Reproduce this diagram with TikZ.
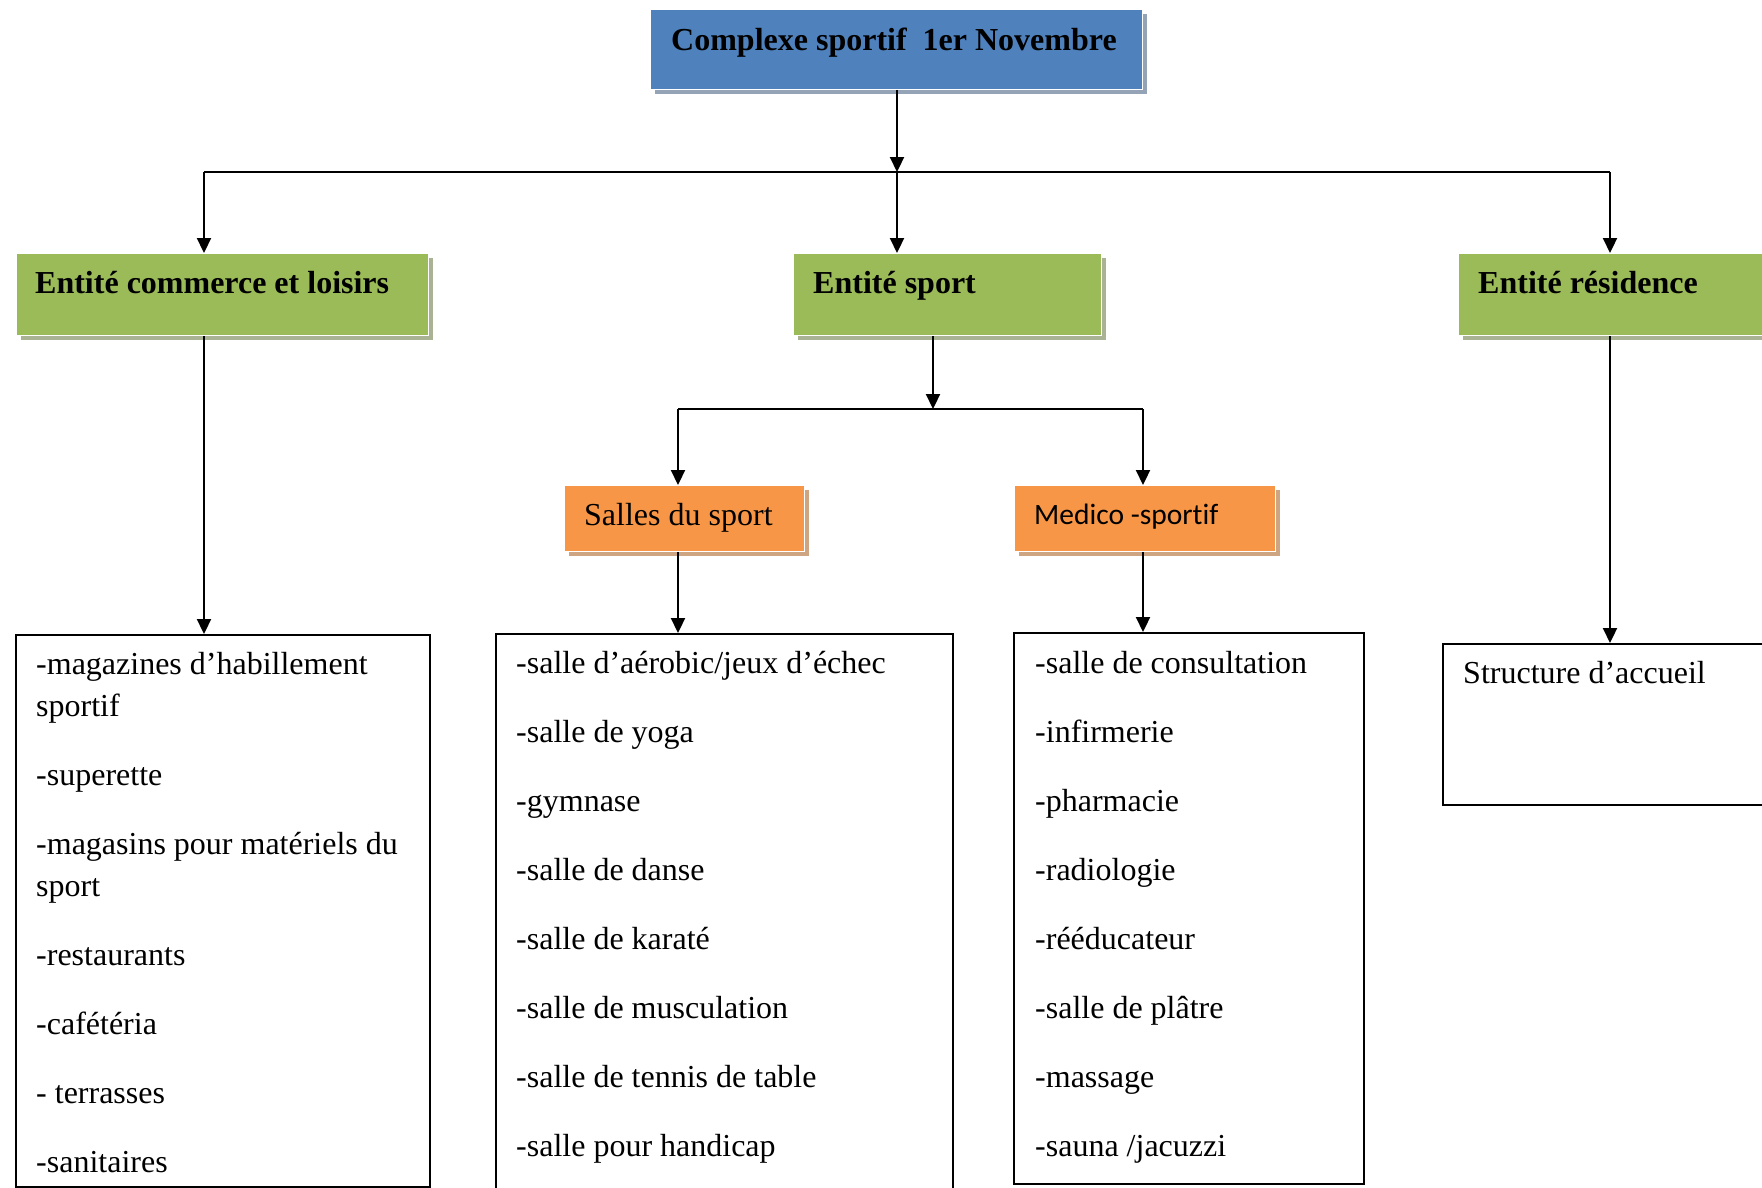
\documentclass[tikz,border=0pt]{standalone}
\usepackage{fontspec}
\setmainfont{Liberation Serif}
\newfontfamily\calib[Ligatures=NoCommon]{Carlito}
\usetikzlibrary{arrows.meta,shadows}
\definecolor{bluebox}{HTML}{4F81BD}
\definecolor{greenbox}{HTML}{9BBB59}
\definecolor{orangebox}{HTML}{F79646}
\definecolor{blueshadow}{HTML}{95A3B6}
\definecolor{greenshadow}{HTML}{A9B394}
\definecolor{orangeshadow}{HTML}{CDA583}
\begin{document}
\begin{tikzpicture}[x=1pt,y=-1pt,
  colbox/.style={draw=white, line width=1pt, anchor=north west, inner sep=0pt},
  bluestyle/.style={colbox, fill=bluebox, drop shadow={shadow xshift=4pt, shadow yshift=-4pt, fill=blueshadow, opacity=1}},
  greenstyle/.style={colbox, fill=greenbox, drop shadow={shadow xshift=4pt, shadow yshift=-4pt, fill=greenshadow, opacity=1}},
  orangestyle/.style={colbox, fill=orangebox, drop shadow={shadow xshift=4pt, shadow yshift=-4pt, fill=orangeshadow, opacity=1}},
  listbox/.style={draw=black, line width=2pt, fill=white, anchor=north west, inner sep=0pt},
  txt/.style={anchor=base west, inner sep=0pt, font=\fontsize{32}{40}\selectfont},
  btxt/.style={txt, font=\fontsize{32}{40}\selectfont\bfseries},
  arr/.style={line width=2.2pt, -{Triangle[width=14pt,length=15pt]}},
  ln/.style={line width=2.2pt}
]
\useasboundingbox (0,0) rectangle (1762,1187);

% coloured boxes
\node[bluestyle, minimum width=492pt, minimum height=80pt] (top) at (650,9) {};
\node[greenstyle, minimum width=412pt, minimum height=82pt] (com) at (16,253) {};
\node[greenstyle, minimum width=308pt, minimum height=82pt] (spo) at (793,253) {};
\node[greenstyle, minimum width=330pt, minimum height=82pt] (res) at (1458,253) {};
\node[orangestyle, minimum width=240pt, minimum height=66pt] (sal) at (564,485) {};
\node[orangestyle, minimum width=261pt, minimum height=66pt] (med) at (1014,485) {};

% list boxes
\node[listbox, minimum width=414pt, minimum height=552pt] (listL) at (15,634) {};
\node[listbox, minimum width=457pt, minimum height=600pt] (listM) at (495,633) {};
\node[listbox, minimum width=350pt, minimum height=551pt] (listR) at (1013,632) {};
\node[listbox, minimum width=360pt, minimum height=161pt] (str) at (1442,643) {};

% titles
\node[btxt] (tTop) at (671,50) {Complexe sportif\ \ 1er Novembre};
\node[btxt] (tCom) at (35,293) {Entité commerce et loisirs};
\node[btxt] (tSpo) at (813,293) {Entité sport};
\node[btxt] (tRes) at (1478,293) {Entité résidence};
\node[txt, font=\fontsize{32}{38}\selectfont] (tSal) at (584,525) {Salles du sport};
\node[txt, font=\calib\fontsize{29.5}{36}\selectfont] (tMed) at (1034,524) {Medico -sportif};
\node[txt] (tStr) at (1463,683) {Structure d’accueil};

% list texts
\foreach \yy/\t [count=\i] in {674/-magazines d’habillement, 716/sportif, 785/-superette,
   854/-magasins pour matériels du, 896/sport, 965/-restaurants, 1034/-cafétéria,
   1103/- terrasses, 1172/-sanitaires}
  \node[txt] (L\i) at (36,\yy) {\t};
\foreach \t [count=\i, evaluate=\i as \yy using {604+69*\i}] in {-salle d’aérobic/jeux d’échec,
   -salle de yoga, -gymnase, -salle de danse, -salle de karaté, -salle de musculation,
   -salle de tennis de table, -salle pour handicap}
  \node[txt] (M\i) at (516,\yy) {\t};
\foreach \t [count=\i, evaluate=\i as \yy using {604+69*\i}] in {-salle de consultation,
   -infirmerie, -pharmacie, -radiologie, -rééducateur, -salle de plâtre,
   -massage, -sauna /jacuzzi}
  \node[txt] (R\i) at (1035,\yy) {\t};

% connectors
\coordinate (J1) at (897,172);
\coordinate (JL) at (204,172);
\coordinate (JR) at (1610,172);
\coordinate (J2) at (933,409);
\coordinate (JS) at (678,409);
\coordinate (JM) at (1143,409);

\draw[arr] (top.south -| J1) -- (J1);
\draw[ln] (JL) -- (JR);
\draw[arr] (J1) -- (J1 |- spo.north);
\draw[arr] (JL) -- (JL |- com.north);
\draw[arr] (JR) -- (JR |- res.north);
\draw[arr] (JL |- com.south) -- (JL |- listL.north);
\draw[arr] (JR |- res.south) -- (JR |- str.north);
\draw[arr] (J2 |- spo.south) -- (J2);
\draw[ln] (JS) -- (JM);
\draw[arr] (JS) -- (JS |- sal.north);
\draw[arr] (JM) -- (JM |- med.north);
\draw[arr] (JS |- sal.south) -- (JS |- listM.north);
\draw[arr] (JM |- med.south) -- (JM |- listR.north);
\end{tikzpicture}
\end{document}
